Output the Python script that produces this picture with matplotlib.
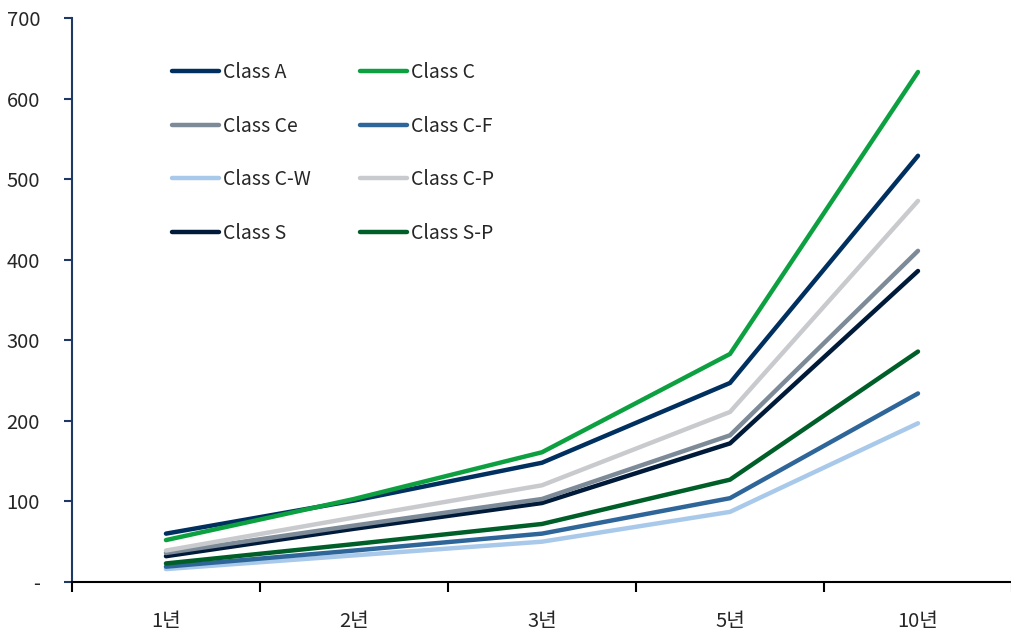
import numpy as np
import matplotlib.pyplot as plt
from matplotlib.ticker import FixedLocator, FuncFormatter

plt.rcParams['font.family'] = ['Noto Sans CJK KR', 'DejaVu Sans']

periods = ['1년', '2년', '3년', '5년', '10년']

class_a = [60, 101, 148, 247, 529]
class_c = [52, 103, 161, 283, 633]
class_ce = [36, 70, 103, 182, 411]
class_cf = [19, 39, 60, 104, 234]
class_cw = [16, 33, 50, 87, 197]
class_cp = [39, 80, 120, 211, 473]
class_s = [32, 66, 98, 172, 386]
class_sp = [23, 47, 72, 127, 286]

names = ['Class A', 'Class C', 'Class Ce', 'Class C-F',
         'Class C-W', 'Class C-P', 'Class S', 'Class S-P']
series = [class_a, class_c, class_ce, class_cf, class_cw, class_cp, class_s, class_sp]
colors = ['#00305F', '#0DA040', '#7D8A97', '#2F6699',
          '#A9C9EA', '#C8CACD', '#001A3A', '#005F28']

fig = plt.figure(figsize=(10.12, 6.33), dpi=100)
ax = fig.add_axes([0.0711, 0.0806, 0.9289, 0.891])

x = np.arange(len(periods))
# draw back to front so the top-of-legend series sit on top
order = [4, 3, 7, 6, 2, 5, 0, 1]
lines = {}
for i in order:
    ln, = ax.plot(x, series[i], color=colors[i], lw=3.2, solid_capstyle='round',
                  solid_joinstyle='miter', label=names[i])
    lines[i] = ln

ax.set_xlim(-0.5, len(periods) - 0.5)
ax.set_ylim(0, 700)
ax.set_yticks(np.arange(0, 701, 100))
ax.yaxis.set_major_formatter(FuncFormatter(lambda v, p: '-' if v == 0 else f'{int(v)}'))

ax.set_xticks(x)
ax.set_xticklabels(periods)
ax.xaxis.set_minor_locator(FixedLocator(np.arange(-0.5, len(periods), 1.0)))
ax.tick_params(axis='x', which='major', length=0, pad=21, labelsize=14.5, labelcolor='#262626')
ax.tick_params(axis='x', which='minor', length=7, width=1.5, color='black', direction='out')
ax.tick_params(axis='y', length=6, width=1.5, color='#1F3864', labelsize=14.5, pad=17,
               labelcolor='#262626')

for s in ['top', 'right']:
    ax.spines[s].set_visible(False)
ax.spines['left'].set_color('#1F3864')
ax.spines['left'].set_linewidth(1.5)
ax.spines['bottom'].set_color('black')
ax.spines['bottom'].set_linewidth(1.5)

handles = [lines[i] for i in [0, 2, 4, 6, 1, 3, 5, 7]]
labels = [names[i] for i in [0, 2, 4, 6, 1, 3, 5, 7]]
leg = ax.legend(handles, labels, ncol=2, loc='upper left', bbox_to_anchor=(0.106, 0.922),
                frameon=False, fontsize=14, handlelength=2.45, handletextpad=0.2,
                columnspacing=2.5, labelspacing=1.68, borderpad=0, borderaxespad=0)
for t in leg.get_texts():
    t.set_color('#262626')

fig.savefig('out.png', dpi=100)
